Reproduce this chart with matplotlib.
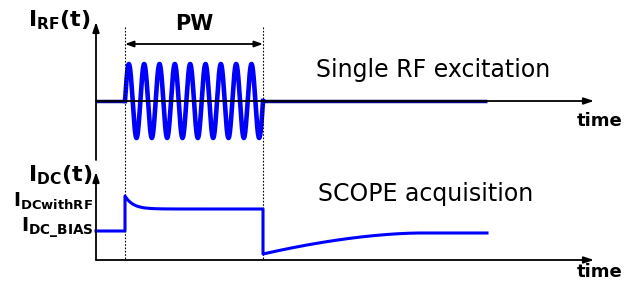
import numpy as np
import matplotlib
matplotlib.use('Agg')
import matplotlib.pyplot as plt

# schematic parameters (in picture pixel units)
rf_baseline = 101
rf_amplitude = 37
rf_cycles = 9
pulse_start = 125
pulse_end = 263
trace_end = 487
dc_bias = 231
dc_peak = 196
dc_with_rf = 209
dc_dip = 254
dc_recover = 233
recover_end = 420
labels_top = ['Single RF excitation']
labels_bottom = ['SCOPE acquisition']

plt.rcParams['mathtext.fontset'] = 'dejavusans'
fig = plt.figure(figsize=(6.24, 2.82), dpi=100)
ax = fig.add_axes([0, 0, 1, 1])
ax.set_xlim(0, 624)
ax.set_ylim(282, 0)
ax.axis('off')

blue = '#0000ff'
arrow = dict(arrowstyle='-|>,head_length=0.6,head_width=0.2', color='black', lw=1.3, shrinkA=0, shrinkB=0)

# ---- top panel: RF excitation ----
t = np.linspace(pulse_start, pulse_end, 800)
sine = rf_baseline - rf_amplitude * np.sin(2 * np.pi * rf_cycles * (t - pulse_start) / (pulse_end - pulse_start))
ax.plot([96, pulse_start], [rf_baseline, rf_baseline], color='#00008b', lw=2.5, solid_capstyle='butt')
ax.plot(t, sine, color=blue, lw=3.3)
ax.plot([pulse_end, trace_end], [rf_baseline, rf_baseline], color='#00008b', lw=2.5, solid_capstyle='butt')
ax.annotate('', xy=(96, 22), xytext=(96, 160), arrowprops=arrow)
ax.annotate('', xy=(594, rf_baseline), xytext=(96, rf_baseline), arrowprops=arrow)
ax.text(577, 121, 'time', fontsize=13, fontweight='bold', va='center', ha='left')
ax.text(28, 20, r'$\mathbf{I}_{\mathbf{RF}}\mathbf{(t)}$', fontsize=16, va='center', ha='left')
ax.text(316, 70, labels_top[0], fontsize=17, va='center', ha='left')

# PW marker
ax.annotate('', xy=(pulse_start, 44), xytext=(pulse_end, 44),
            arrowprops=dict(arrowstyle='<|-|>,head_length=0.5,head_width=0.18', color='black', lw=1.3, shrinkA=0, shrinkB=0))
ax.text((pulse_start + pulse_end) / 2, 24, 'PW', fontsize=15, fontweight='bold', va='center', ha='center')
for xv in (pulse_start, pulse_end):
    ax.plot([xv, xv], [27, 260], color='black', lw=0.8, ls=(0, (1.5, 1.5)))

# ---- bottom panel: DC acquisition ----
ax.annotate('', xy=(96, 172), xytext=(96, 260), arrowprops=arrow)
ax.annotate('', xy=(594, 260), xytext=(96, 260), arrowprops=arrow)
ax.text(577, 272, 'time', fontsize=13, fontweight='bold', va='center', ha='left')

t1 = np.linspace(pulse_start, pulse_end, 300)
decay = dc_with_rf + (dc_peak - dc_with_rf) * np.exp(-(t1 - pulse_start) / 8)
t2 = np.linspace(pulse_end, trace_end, 400)
frac = np.clip(1 - (t2 - pulse_end) / (recover_end - pulse_end), 0, 1)
recov = dc_recover + (dc_dip - dc_recover) * frac ** 1.7
xs = np.concatenate([[96, pulse_start], t1, t2])
ys = np.concatenate([[dc_bias, dc_bias], decay, recov])
ax.plot(xs, ys, color=blue, lw=2.2)

ax.text(28, 175, r'$\mathbf{I}_{\mathbf{DC}}\mathbf{(t)}$', fontsize=16, va='center', ha='left')
ax.text(13, 201, r'$\mathbf{I}_{\mathbf{DCwithRF}}$', fontsize=13.5, va='center', ha='left')
ax.text(21, 227, r'$\mathbf{I}_{\mathbf{DC\_BIAS}}$', fontsize=14, va='center', ha='left')
ax.text(318, 194, labels_bottom[0], fontsize=17, va='center', ha='left')

fig.savefig('out.png', dpi=100)
